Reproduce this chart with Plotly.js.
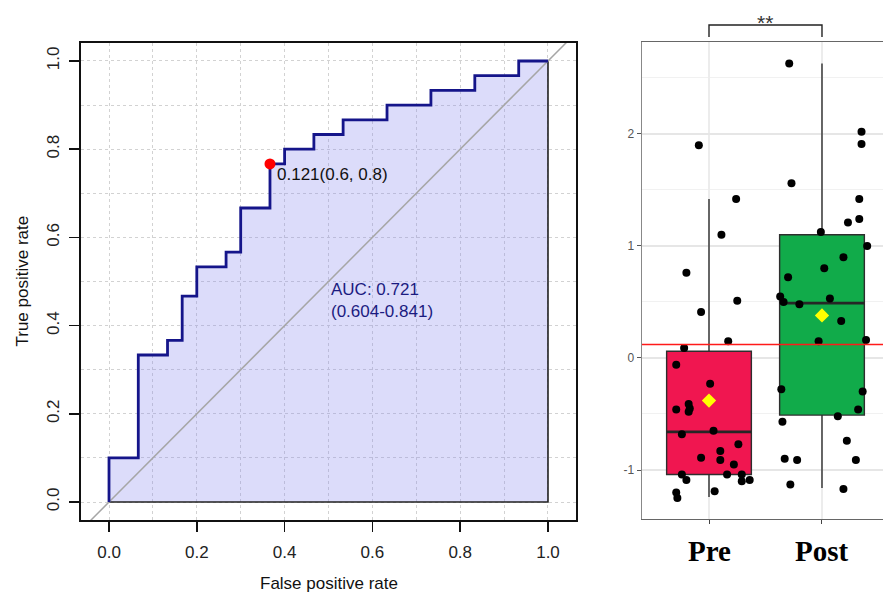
<!DOCTYPE html>
<html><head><meta charset="utf-8">
<script src="https://cdn.plot.ly/plotly-3.0.1.min.js"></script>
<style>html,body{margin:0;padding:0;background:#fff;} #chart{width:883px;height:593px;}</style>
</head><body><div id="chart"></div>
<script>
// ---------- ROC panel data ----------
const rocFPR = [0, 0, 0.0667, 0.1333, 0.1667, 0.2, 0.2667, 0.3, 0.3667, 0.4, 0.4667, 0.5333, 0.6333, 0.7333, 0.8333, 0.9333, 1.0];
const rocTPR = [0, 0.1, 0.3333, 0.3667, 0.4667, 0.5333, 0.5667, 0.6667, 0.7667, 0.8, 0.8333, 0.8667, 0.9, 0.9333, 0.9667, 1.0, 1.0];
const bestFPR = [0.3667];
const bestTPR = [0.7667];
const bestLabel = "0.121(0.6, 0.8)";
const aucLabel = ["AUC: 0.721", "(0.604-0.841)"];
const aucPos = [0.5, 0.458];
const chanceLine = [-0.1, 1.1];
const rocTicks = [0, 0.2, 0.4, 0.6, 0.8, 1.0];
const rocTickText = ["0.0", "0.2", "0.4", "0.6", "0.8", "1.0"];
const rocXTitle = "False positive rate";
const rocYTitle = "True positive rate";

// ---------- Box panel data ----------
const groups = ["Pre", "Post"];
const q1 = [-1.04, -0.51];
const med = [-0.66, 0.49];
const q3 = [0.06, 1.10];
const whiskLo = [-1.24, -1.16];
const whiskHi = [1.42, 2.63];
const means = [-0.38, 0.38];
const cutoff = 0.12;
const boxTicks = [-1, 0, 1, 2];
const boxTickText = ["-1", "0", "1", "2"];
const sigLabel = "**";
const preJit = [-0.09,0.24,0.11,-0.20,0.25,-0.07,0.17,-0.22,-0.29,0.01,-0.29,-0.18,-0.17,-0.18,0.04,-0.24,0.26,0.10,-0.07,0.10,0.22,-0.24,0.16,0.29,-0.20,0.29,0.36,0.05,-0.29,-0.28];
const preVal = [1.90,1.42,1.10,0.76,0.51,0.41,0.15,0.09,-0.06,-0.23,-0.46,-0.41,-0.45,-0.48,-0.65,-0.68,-0.77,-0.83,-0.89,-0.91,-0.95,-1.04,-1.04,-1.04,-1.09,-1.10,-1.09,-1.19,-1.20,-1.25];
const postJit = [-0.29,0.35,0.35,-0.27,0.33,0.33,0.23,-0.01,0.40,0.19,0.02,-0.30,-0.37,-0.34,-0.20,0.07,0.17,-0.03,0.39,-0.36,0.36,0.32,0.14,-0.35,0.22,-0.33,-0.22,0.30,-0.28,0.19];
const postVal = [2.63,2.02,1.91,1.56,1.42,1.24,1.21,1.125,1.00,0.90,0.80,0.72,0.55,0.50,0.48,0.53,0.33,0.15,0.16,-0.28,-0.30,-0.46,-0.52,-0.57,-0.74,-0.90,-0.91,-0.91,-1.13,-1.17];
const boxColors = ["#f01650", "#11ab4a"];

const W = 883, H = 593;
const px = v => v / W;
const py = v => 1 - v / H;
const sans = "Liberation Sans, Arial, sans-serif";
const serif = "Liberation Serif, Times New Roman, serif";

const last = rocFPR.length - 1;
const traces = [];
// ROC fill
traces.push({type:'scatter', mode:'lines', x:rocFPR, y:rocTPR, line:{shape:'hv', width:0, color:'rgba(0,0,0,0)'},
  fill:'tozeroy', fillcolor:'rgba(140,140,238,0.3)', xaxis:'x', yaxis:'y', hoverinfo:'skip'});
// polygon border (bottom + right)
traces.push({type:'scatter', mode:'lines', x:[rocFPR[last], rocFPR[last], rocFPR[0]], y:[rocTPR[last], rocTPR[0], rocTPR[0]],
  line:{color:'#222', width:1.6}, xaxis:'x', yaxis:'y', hoverinfo:'skip'});
// chance diagonal
traces.push({type:'scatter', mode:'lines', x:chanceLine, y:chanceLine, line:{color:'#a6a6a6', width:1.5}, xaxis:'x', yaxis:'y', hoverinfo:'skip'});
// ROC curve
traces.push({type:'scatter', mode:'lines', x:rocFPR, y:rocTPR, line:{shape:'hv', width:2.8, color:'#15158a'}, xaxis:'x', yaxis:'y', hoverinfo:'skip'});
// best threshold
traces.push({type:'scatter', mode:'markers', x:bestFPR, y:bestTPR, marker:{color:'#ff0000', size:11}, xaxis:'x', yaxis:'y', hoverinfo:'skip', cliponaxis:false});

// Box panel
const jit = [preJit, postJit], vals = [preVal, postVal];
groups.forEach((g, i) => {
  traces.push({type:'box', x:[i], q1:[q1[i]], median:[med[i]], q3:[q3[i]], lowerfence:[whiskLo[i]], upperfence:[whiskHi[i]],
    width:0.75, whiskerwidth:0, fillcolor:boxColors[i], line:{color:'#2e2e2e', width:1.4}, boxpoints:false,
    xaxis:'x2', yaxis:'y2', hoverinfo:'skip'});
});
groups.forEach((g, i) => {
  traces.push({type:'scatter', mode:'lines', x:[i - 0.375, i + 0.375], y:[med[i], med[i]], line:{color:'#262626', width:2.6},
    xaxis:'x2', yaxis:'y2', hoverinfo:'skip'});
});
groups.forEach((g, i) => {
  traces.push({type:'scatter', mode:'markers', x:jit[i].map(d => i + d), y:vals[i], marker:{color:'#000', size:8},
    xaxis:'x2', yaxis:'y2', hoverinfo:'skip', cliponaxis:false});
});
traces.push({type:'scatter', mode:'markers', x:groups.map((g, i) => i), y:means, marker:{color:'#ffff00', size:11, symbol:'diamond'},
  xaxis:'x2', yaxis:'y2', hoverinfo:'skip'});

const gridDot = {showgrid:true, gridcolor:'#d2d2d2', griddash:'dot', gridwidth:1};
const layout = {
  width:W, height:H, margin:{l:0, r:0, t:0, b:0}, paper_bgcolor:'#fff', plot_bgcolor:'#fff', showlegend:false,
  xaxis:{domain:[px(81), px(576)], range:[-0.0638, 1.0638], anchor:'y', tickmode:'array', tickvals:rocTicks, ticktext:rocTickText,
    ticks:'outside', ticklen:10, tickwidth:1.5, tickcolor:'#111', showline:true, mirror:true, linecolor:'#111', linewidth:1.6,
    ticklabelstandoff:6,
    zeroline:false, tickfont:{family:sans, size:17, color:'#222'}, ...gridDot,
    minor:{tickmode:'linear', tick0:0, dtick:0.1, showgrid:true, gridcolor:'#d2d2d2', griddash:'dot', gridwidth:1, ticks:''}},
  yaxis:{domain:[py(520), py(43)], range:[-0.0408, 1.0408], anchor:'x', tickmode:'array', tickvals:rocTicks, ticktext:rocTickText,
    tickangle:-90, ticks:'outside', ticklen:10, tickwidth:1.5, tickcolor:'#111', showline:true, mirror:true, linecolor:'#111', linewidth:1.6,
    ticklabelstandoff:4,
    zeroline:false, tickfont:{family:sans, size:17, color:'#222'}, ...gridDot,
    minor:{tickmode:'linear', tick0:0, dtick:0.1, showgrid:true, gridcolor:'#d2d2d2', griddash:'dot', gridwidth:1, ticks:''}},
  xaxis2:{domain:[px(642), 1], range:[-0.593, 1.54], anchor:'y2', tickmode:'array', tickvals:groups.map((g, i) => i), ticktext:groups.map(() => ''),
    ticks:'outside', ticklen:4, tickcolor:'#444', showline:true, mirror:true, linecolor:'#666', linewidth:1.4,
    showgrid:true, gridcolor:'#ececec', gridwidth:1.2, zeroline:false},
  yaxis2:{domain:[py(519), py(42)], range:[-1.4375, 2.821], anchor:'x2', tickmode:'array', tickvals:boxTicks, ticktext:boxTickText,
    ticks:'outside', ticklen:4, tickcolor:'#555', showline:true, linecolor:'#888', linewidth:1.4,
    tickfont:{family:sans, size:12, color:'#555'}, showgrid:true, gridcolor:'#e6e6e6', gridwidth:1.3, zeroline:false,
    minor:{tickmode:'linear', tick0:0.5, dtick:1, showgrid:true, gridcolor:'#f1f1f1', gridwidth:1, ticks:''}},
  shapes:[
    {type:'line', xref:'x2 domain', yref:'y2', x0:0, x1:1, y0:cutoff, y1:cutoff, line:{color:'#ff1a1a', width:1.6}},
    {type:'path', xref:'x2', yref:'paper', path:`M 0,${py(37)} L 0,${py(25)} L 1,${py(25)} L 1,${py(37)}`, line:{color:'#222', width:1.4}}
  ],
  annotations:[
    {xref:'x', yref:'y', x:bestFPR[0], y:bestTPR[0], text:bestLabel, showarrow:false, xanchor:'left', yanchor:'middle', xshift:5, yshift:-11,
      font:{family:sans, size:17, color:'#111'}},
    {xref:'x', yref:'y', x:aucPos[0], y:aucPos[1], text:aucLabel.join('<br>'), showarrow:false, xanchor:'left', yanchor:'middle', align:'left',
      font:{family:sans, size:17, color:'#1b1b80'}},
    {xref:'paper', yref:'paper', x:px(21.5), y:py(281), text:rocYTitle, textangle:-90, showarrow:false, xanchor:'center', yanchor:'middle',
      font:{family:sans, size:17, color:'#111'}},
    {xref:'paper', yref:'paper', x:px(328.5), y:py(583), text:rocXTitle, showarrow:false, xanchor:'center', yanchor:'middle',
      font:{family:sans, size:17, color:'#111'}},
    {xref:'x2', yref:'paper', x:0.5, y:py(22), text:sigLabel, showarrow:false, xanchor:'center', yanchor:'middle',
      font:{family:sans, size:21, color:'#333'}},
    ...groups.map((g, i) => ({xref:'x2', yref:'paper', x:i, y:py(551), text:'<b>' + g + '</b>', showarrow:false, xanchor:'center', yanchor:'middle',
      font:{family:serif, size:29, color:'#000'}}))
  ]
};
Plotly.newPlot('chart', traces, layout, {staticPlot:true, displayModeBar:false});
</script>
</body></html>
